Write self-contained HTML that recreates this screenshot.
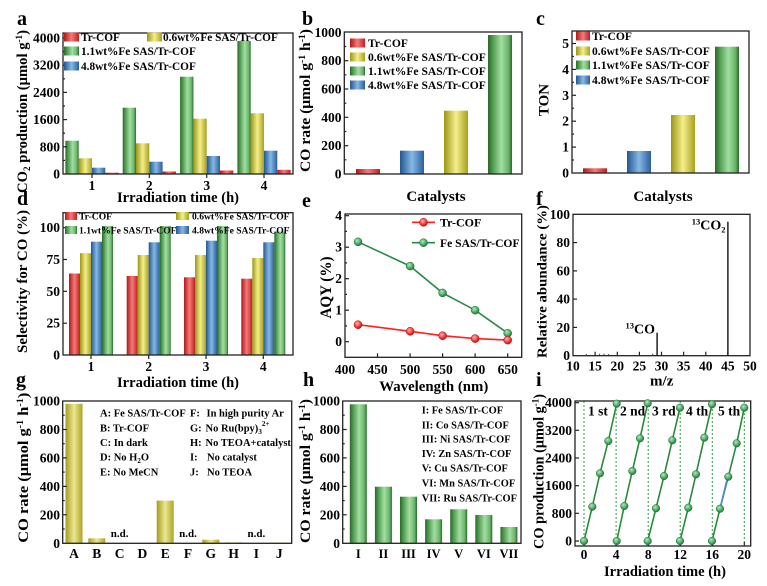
<!DOCTYPE html>
<html><head><meta charset="utf-8"><style>
html,body{margin:0;padding:0;background:#fff;}
svg{display:block;}
text{font-family:"Liberation Serif","DejaVu Serif",serif;font-weight:bold;fill:#000;}
.t{font-size:13.5px;}
.ax{fill:none;stroke:#222;stroke-width:1.3;}
.tk{stroke:#222;stroke-width:1.2;}
.lt{font-size:20px;}
</style></head><body>
<svg width="767" height="586" viewBox="0 0 767 586" xmlns="http://www.w3.org/2000/svg">
<defs>
<linearGradient id="gG" x1="0" x2="1" y1="0" y2="0"><stop offset="0" stop-color="#2b682b"/><stop offset="0.2" stop-color="#4f9c4f"/><stop offset="0.55" stop-color="#a3dea3"/><stop offset="0.85" stop-color="#6ab66a"/><stop offset="1" stop-color="#2b682b"/></linearGradient>
<linearGradient id="gY" x1="0" x2="1" y1="0" y2="0"><stop offset="0" stop-color="#9c9616"/><stop offset="0.5" stop-color="#f4ef8a"/><stop offset="1" stop-color="#a8a020"/></linearGradient>
<linearGradient id="gR" x1="0" x2="1" y1="0" y2="0"><stop offset="0" stop-color="#b01818"/><stop offset="0.5" stop-color="#f57a7a"/><stop offset="1" stop-color="#c02020"/></linearGradient>
<linearGradient id="gB" x1="0" x2="1" y1="0" y2="0"><stop offset="0" stop-color="#22578f"/><stop offset="0.5" stop-color="#86b8e6"/><stop offset="1" stop-color="#2a5f9a"/></linearGradient>
<linearGradient id="gO" x1="0" x2="1" y1="0" y2="0"><stop offset="0" stop-color="#a49c20"/><stop offset="0.5" stop-color="#ece890"/><stop offset="1" stop-color="#aca428"/></linearGradient>
<radialGradient id="mR" cx="0.4" cy="0.35" r="0.65"><stop offset="0" stop-color="#ffb0b0"/><stop offset="1" stop-color="#e00000"/></radialGradient>
<radialGradient id="mG" cx="0.4" cy="0.35" r="0.65"><stop offset="0" stop-color="#a8f0b8"/><stop offset="1" stop-color="#1e7a3a"/></radialGradient>
</defs>
<rect width="767" height="586" fill="#fff"/>

<!-- ================= PANEL A ================= -->
<text class="lt" x="17" y="25">a</text>
<g>
<rect x="65.4" y="140.7" width="13.3" height="33.3" fill="url(#gG)"/>
<rect x="78.7" y="158.3" width="13.3" height="15.7" fill="url(#gY)"/>
<rect x="92" y="167.7" width="13.3" height="6.3" fill="url(#gB)"/>
<rect x="105.3" y="172.7" width="13.3" height="1.3" fill="url(#gR)"/>
<rect x="122.7" y="107.7" width="13.3" height="66.3" fill="url(#gG)"/>
<rect x="136" y="143.3" width="13.3" height="30.7" fill="url(#gY)"/>
<rect x="149.3" y="161.7" width="13.3" height="12.3" fill="url(#gB)"/>
<rect x="162.6" y="171.5" width="13.3" height="2.5" fill="url(#gR)"/>
<rect x="180.1" y="76.7" width="13.3" height="97.3" fill="url(#gG)"/>
<rect x="193.4" y="118.7" width="13.3" height="55.3" fill="url(#gY)"/>
<rect x="206.7" y="156" width="13.3" height="18" fill="url(#gB)"/>
<rect x="220" y="170.5" width="13.3" height="3.5" fill="url(#gR)"/>
<rect x="237.4" y="41" width="13.3" height="133" fill="url(#gG)"/>
<rect x="250.7" y="113.3" width="13.3" height="60.7" fill="url(#gY)"/>
<rect x="264" y="150.7" width="13.3" height="23.3" fill="url(#gB)"/>
<rect x="277.3" y="169.8" width="13.3" height="4.2" fill="url(#gR)"/>
</g>
<rect class="ax" x="63" y="33" width="230" height="141"/>
<g class="tk">
<line x1="63" y1="146.8" x2="67" y2="146.8"/><line x1="63" y1="119.6" x2="67" y2="119.6"/><line x1="63" y1="92.4" x2="67" y2="92.4"/><line x1="63" y1="65.2" x2="67" y2="65.2"/><line x1="63" y1="38" x2="67" y2="38"/>
<line x1="63" y1="160.4" x2="65" y2="160.4"/><line x1="63" y1="133.2" x2="65" y2="133.2"/><line x1="63" y1="106" x2="65" y2="106"/><line x1="63" y1="78.8" x2="65" y2="78.8"/><line x1="63" y1="51.6" x2="65" y2="51.6"/>
<line x1="92" y1="174" x2="92" y2="178"/><line x1="149.3" y1="174" x2="149.3" y2="178"/><line x1="206.7" y1="174" x2="206.7" y2="178"/><line x1="264" y1="174" x2="264" y2="178"/>
</g>
<g class="t" text-anchor="end">
<text x="60" y="178.5">0</text><text x="60" y="151.3">800</text><text x="60" y="124.1">1600</text><text x="60" y="96.9">2400</text><text x="60" y="69.7">3200</text><text x="60" y="42.5">4000</text>
</g>
<g class="t" text-anchor="middle">
<text x="92" y="190">1</text><text x="149.3" y="190">2</text><text x="206.7" y="190">3</text><text x="264" y="190">4</text>
</g>
<g style="font-size:11.3px">
<rect x="64" y="32.5" width="15" height="9" fill="url(#gR)"/><text x="81" y="41">Tr-COF</text>
<rect x="147" y="32.5" width="15" height="9" fill="url(#gY)"/><text x="163" y="41">0.6wt%Fe SAS/Tr-COF</text>
<rect x="64" y="46.5" width="15" height="9" fill="url(#gG)"/><text x="81" y="55">1.1wt%Fe SAS/Tr-COF</text>
<rect x="64" y="61.5" width="15" height="9" fill="url(#gB)"/><text x="81" y="70">4.8wt%Fe SAS/Tr-COF</text>
</g>
<text x="178" y="202" text-anchor="middle" style="font-size:14.5px" textLength="122" lengthAdjust="spacingAndGlyphs">Irradiation  time (h)</text>
<text transform="translate(27,111.5) rotate(-90)" text-anchor="middle" style="font-size:14.5px" textLength="163" lengthAdjust="spacingAndGlyphs">CO<tspan dy="3" style="font-size:9px">2</tspan><tspan dy="-3"> production (μmol g</tspan><tspan dy="-5" style="font-size:9px">-1</tspan><tspan dy="5">)</tspan></text>

<!-- ================= PANEL B ================= -->
<text class="lt" x="302" y="25">b</text>
<rect x="356" y="169" width="24" height="5" fill="url(#gR)"/>
<rect x="400" y="150.7" width="24" height="23.3" fill="url(#gB)"/>
<rect x="444" y="110.7" width="24" height="63.3" fill="url(#gY)"/>
<rect x="488" y="35" width="24" height="139" fill="url(#gG)"/>
<rect class="ax" x="344.3" y="32" width="177.7" height="142"/>
<g class="tk">
<line x1="344.3" y1="145.7" x2="348.3" y2="145.7"/><line x1="344.3" y1="117.3" x2="348.3" y2="117.3"/><line x1="344.3" y1="89" x2="348.3" y2="89"/><line x1="344.3" y1="60.7" x2="348.3" y2="60.7"/>
<line x1="344.3" y1="159.8" x2="346.3" y2="159.8"/><line x1="344.3" y1="131.5" x2="346.3" y2="131.5"/><line x1="344.3" y1="103.2" x2="346.3" y2="103.2"/><line x1="344.3" y1="74.8" x2="346.3" y2="74.8"/><line x1="344.3" y1="46.5" x2="346.3" y2="46.5"/>
</g>
<g class="t" text-anchor="end">
<text x="341.5" y="178.5">0</text><text x="341.5" y="150.2">200</text><text x="341.5" y="121.8">400</text><text x="341.5" y="93.5">600</text><text x="341.5" y="65.2">800</text><text x="341.5" y="36.8">1000</text>
</g>
<g style="font-size:11.6px">
<rect x="350" y="38.5" width="15" height="9" fill="url(#gR)"/><text x="368" y="47">Tr-COF</text>
<rect x="350" y="52.5" width="15" height="9" fill="url(#gY)"/><text x="368" y="61">0.6wt%Fe SAS/Tr-COF</text>
<rect x="350" y="66.5" width="15" height="9" fill="url(#gG)"/><text x="368" y="75">1.1wt%Fe SAS/Tr-COF</text>
<rect x="350" y="80.5" width="15" height="9" fill="url(#gB)"/><text x="368" y="89">4.8wt%Fe SAS/Tr-COF</text>
</g>
<text x="436" y="201" text-anchor="middle" style="font-size:15px">Catalysts</text>
<text transform="translate(310,100.5) rotate(-90)" text-anchor="middle" style="font-size:14.5px" textLength="143" lengthAdjust="spacingAndGlyphs">CO rate (μmol g<tspan dy="-5" style="font-size:9px">-1</tspan><tspan dy="5"> h</tspan><tspan dy="-5" style="font-size:9px">-1</tspan><tspan dy="5">)</tspan></text>

<!-- ================= PANEL C ================= -->
<text class="lt" x="536" y="25">c</text>
<rect x="583" y="168.3" width="24" height="4.7" fill="url(#gR)"/>
<rect x="627" y="151" width="24" height="22" fill="url(#gB)"/>
<rect x="671" y="115" width="24" height="58" fill="url(#gY)"/>
<rect x="715" y="46.7" width="24" height="126.3" fill="url(#gG)"/>
<rect class="ax" x="572" y="31" width="177" height="142"/>
<g class="tk">
<line x1="572" y1="147.1" x2="576" y2="147.1"/><line x1="572" y1="121.2" x2="576" y2="121.2"/><line x1="572" y1="95.3" x2="576" y2="95.3"/><line x1="572" y1="69.4" x2="576" y2="69.4"/><line x1="572" y1="43.5" x2="576" y2="43.5"/>
<line x1="572" y1="160" x2="574" y2="160"/><line x1="572" y1="134.1" x2="574" y2="134.1"/><line x1="572" y1="108.2" x2="574" y2="108.2"/><line x1="572" y1="82.3" x2="574" y2="82.3"/><line x1="572" y1="56.4" x2="574" y2="56.4"/>
</g>
<g class="t" text-anchor="end">
<text x="569" y="177.5">0</text><text x="569" y="151.6">1</text><text x="569" y="125.7">2</text><text x="569" y="99.8">3</text><text x="569" y="73.9">4</text><text x="569" y="48">5</text>
</g>
<g style="font-size:11.6px">
<rect x="576" y="31.5" width="14" height="9" fill="url(#gR)"/><text x="592" y="40">Tr-COF</text>
<rect x="576" y="46.5" width="14" height="9" fill="url(#gY)"/><text x="592" y="55">0.6wt%Fe SAS/Tr-COF</text>
<rect x="576" y="60.5" width="14" height="9" fill="url(#gG)"/><text x="592" y="69">1.1wt%Fe SAS/Tr-COF</text>
<rect x="576" y="75.5" width="14" height="9" fill="url(#gB)"/><text x="592" y="84">4.8wt%Fe SAS/Tr-COF</text>
</g>
<text x="663" y="201" text-anchor="middle" style="font-size:15px">Catalysts</text>
<text transform="translate(548.5,100) rotate(-90)" text-anchor="middle" style="font-size:15px">TON</text>

<!-- ================= PANEL D ================= -->
<text class="lt" x="17" y="205">d</text>
<g>
<rect x="69" y="273.5" width="11" height="81.5" fill="url(#gR)"/><rect x="80" y="253.2" width="11" height="101.8" fill="url(#gY)"/><rect x="91" y="241.7" width="11" height="113.3" fill="url(#gB)"/><rect x="102" y="226" width="11" height="129" fill="url(#gG)"/>
<rect x="126.7" y="276" width="11" height="79" fill="url(#gR)"/><rect x="137.7" y="255" width="11" height="100" fill="url(#gY)"/><rect x="148.7" y="242.3" width="11" height="112.7" fill="url(#gB)"/><rect x="159.7" y="226" width="11" height="129" fill="url(#gG)"/>
<rect x="184" y="277.3" width="11" height="77.7" fill="url(#gR)"/><rect x="195" y="255" width="11" height="100" fill="url(#gY)"/><rect x="206" y="240.7" width="11" height="114.3" fill="url(#gB)"/><rect x="217" y="226" width="11" height="129" fill="url(#gG)"/>
<rect x="241.3" y="278.7" width="11" height="76.3" fill="url(#gR)"/><rect x="252.3" y="258" width="11" height="97" fill="url(#gY)"/><rect x="263.3" y="242.3" width="11" height="112.7" fill="url(#gB)"/><rect x="274.3" y="231.5" width="11" height="123.5" fill="url(#gG)"/>
</g>
<rect class="ax" x="63" y="212.7" width="230" height="142.3"/>
<g class="tk">
<line x1="63" y1="323.2" x2="67" y2="323.2"/><line x1="63" y1="291.35" x2="67" y2="291.35"/><line x1="63" y1="259.5" x2="67" y2="259.5"/><line x1="63" y1="227.7" x2="67" y2="227.7"/>
<line x1="91" y1="355" x2="91" y2="359"/><line x1="148.7" y1="355" x2="148.7" y2="359"/><line x1="206" y1="355" x2="206" y2="359"/><line x1="263.3" y1="355" x2="263.3" y2="359"/>
</g>
<g class="t" text-anchor="end">
<text x="60" y="359.5">0</text><text x="60" y="327.7">25</text><text x="60" y="295.8">50</text><text x="60" y="264">75</text><text x="60" y="232.2">100</text>
</g>
<g class="t" text-anchor="middle">
<text x="91" y="371">1</text><text x="148.7" y="371">2</text><text x="206" y="371">3</text><text x="263.3" y="371">4</text>
</g>
<g style="font-size:9.6px">
<rect x="65" y="212" width="12" height="8" fill="url(#gR)"/><text x="79" y="219.5">Tr-COF</text>
<rect x="176" y="212" width="13" height="8" fill="url(#gY)"/><text x="192" y="219.5">0.6wt%Fe SAS/Tr-COF</text>
<rect x="65" y="226" width="12" height="8" fill="url(#gG)"/><text x="79" y="233.5">1.1wt%Fe SAS/Tr-COF</text>
<rect x="176" y="226" width="13" height="8" fill="url(#gB)"/><text x="192" y="233.5">4.8wt%Fe SAS/Tr-COF</text>
</g>
<text x="178" y="387" text-anchor="middle" style="font-size:14.5px" textLength="122" lengthAdjust="spacingAndGlyphs">Irradiation  time (h)</text>
<text transform="translate(27,281.5) rotate(-90)" text-anchor="middle" style="font-size:14.5px" textLength="143" lengthAdjust="spacingAndGlyphs">Selectivity for CO (%)</text>

<!-- ================= PANEL E ================= -->
<text class="lt" x="302" y="207">e</text>
<rect class="ax" x="345" y="214" width="176.7" height="143.3"/>
<g class="tk">
<line x1="345" y1="310.2" x2="349" y2="310.2"/><line x1="345" y1="278.7" x2="349" y2="278.7"/><line x1="345" y1="247.2" x2="349" y2="247.2"/><line x1="345" y1="215.7" x2="349" y2="215.7"/><line x1="345" y1="341.7" x2="349" y2="341.7"/>
<line x1="345" y1="325.9" x2="347" y2="325.9"/><line x1="345" y1="294.4" x2="347" y2="294.4"/><line x1="345" y1="262.9" x2="347" y2="262.9"/><line x1="345" y1="231.4" x2="347" y2="231.4"/>
<line x1="377.5" y1="357.3" x2="377.5" y2="353.3"/><line x1="410.1" y1="357.3" x2="410.1" y2="353.3"/><line x1="442.6" y1="357.3" x2="442.6" y2="353.3"/><line x1="475.1" y1="357.3" x2="475.1" y2="353.3"/><line x1="507.7" y1="357.3" x2="507.7" y2="353.3"/>
</g>
<g class="t" text-anchor="end">
<text x="342" y="346.2">0</text><text x="342" y="314.7">1</text><text x="342" y="283.2">2</text><text x="342" y="251.7">3</text><text x="342" y="220.2">4</text>
</g>
<g class="t" text-anchor="middle">
<text x="345" y="374">400</text><text x="377.5" y="374">450</text><text x="410.1" y="374">500</text><text x="442.6" y="374">550</text><text x="475.1" y="374">600</text><text x="507.7" y="374">650</text>
</g>
<polyline points="358,241.8 410.1,266.1 442.6,292.9 475.1,310.2 507.7,333.2" fill="none" stroke="#2a8a4a" stroke-width="1.6"/>
<polyline points="358,324.7 410.1,331.3 442.6,335.7 475.1,338.6 507.7,340.1" fill="none" stroke="#ff2020" stroke-width="1.6"/>
<g stroke="#1a6a2a" stroke-width="0.5">
<circle cx="358" cy="241.8" r="4" fill="url(#mG)"/><circle cx="410.1" cy="266.1" r="4" fill="url(#mG)"/><circle cx="442.6" cy="292.9" r="4" fill="url(#mG)"/><circle cx="475.1" cy="310.2" r="4" fill="url(#mG)"/><circle cx="507.7" cy="333.2" r="4" fill="url(#mG)"/>
</g>
<g stroke="#b00000" stroke-width="0.5">
<circle cx="358" cy="324.7" r="4" fill="url(#mR)"/><circle cx="410.1" cy="331.3" r="4" fill="url(#mR)"/><circle cx="442.6" cy="335.7" r="4" fill="url(#mR)"/><circle cx="475.1" cy="338.6" r="4" fill="url(#mR)"/><circle cx="507.7" cy="340.1" r="4" fill="url(#mR)"/>
</g>
<line x1="412" y1="222.3" x2="435" y2="222.3" stroke="#ff2020" stroke-width="1.6"/>
<circle cx="423.5" cy="222.3" r="4" fill="url(#mR)" stroke="#b00000" stroke-width="0.5"/>
<text x="440" y="226.5" style="font-size:12px">Tr-COF</text>
<line x1="412" y1="242.7" x2="435" y2="242.7" stroke="#2a8a4a" stroke-width="1.6"/>
<circle cx="423.5" cy="242.7" r="4" fill="url(#mG)" stroke="#1a6a2a" stroke-width="0.5"/>
<text x="440" y="246.9" style="font-size:11.6px">Fe SAS/Tr-COF</text>
<text x="433.8" y="391" text-anchor="middle" style="font-size:15px" textLength="109" lengthAdjust="spacingAndGlyphs">Wavelength (nm)</text>
<text transform="translate(331,287.5) rotate(-90)" text-anchor="middle" style="font-size:16px" textLength="62" lengthAdjust="spacingAndGlyphs">AQY (%)</text>

<!-- ================= PANEL F ================= -->
<text class="lt" x="536" y="205">f</text>
<rect class="ax" x="573" y="214.3" width="177" height="141.4"/>
<g class="tk">
<line x1="573" y1="327.4" x2="577" y2="327.4"/><line x1="573" y1="299.1" x2="577" y2="299.1"/><line x1="573" y1="270.9" x2="577" y2="270.9"/><line x1="573" y1="242.6" x2="577" y2="242.6"/>
<line x1="595.1" y1="355.7" x2="595.1" y2="351.7"/><line x1="617.3" y1="355.7" x2="617.3" y2="351.7"/><line x1="639.4" y1="355.7" x2="639.4" y2="351.7"/><line x1="661.5" y1="355.7" x2="661.5" y2="351.7"/><line x1="683.6" y1="355.7" x2="683.6" y2="351.7"/><line x1="705.8" y1="355.7" x2="705.8" y2="351.7"/><line x1="727.9" y1="355.7" x2="727.9" y2="351.7"/>
</g>
<g class="t" text-anchor="end">
<text x="570" y="360.2">0</text><text x="570" y="332">20</text><text x="570" y="303.6">40</text><text x="570" y="275.4">60</text><text x="570" y="247.1">80</text><text x="570" y="218.8">100</text>
</g>
<g class="t" text-anchor="middle">
<text x="573" y="370.5">10</text><text x="595.1" y="370.5">15</text><text x="617.3" y="370.5">20</text><text x="639.4" y="370.5">25</text><text x="661.5" y="370.5">30</text><text x="683.6" y="370.5">35</text><text x="705.8" y="370.5">40</text><text x="727.9" y="370.5">45</text><text x="750" y="370.5">50</text>
</g>
<g stroke="#111" stroke-width="1.4">
<line x1="727.9" y1="355.7" x2="727.9" y2="221.7"/>
<line x1="657.1" y1="355.7" x2="657.1" y2="332.7"/>
</g>
<g stroke="#333" stroke-width="0.9">
<line x1="586.3" y1="355.7" x2="586.3" y2="354"/><line x1="599.6" y1="355.7" x2="599.6" y2="353.8"/><line x1="604" y1="355.7" x2="604" y2="353.6"/><line x1="608.4" y1="355.7" x2="608.4" y2="354"/><line x1="652.7" y1="355.7" x2="652.7" y2="353.8"/>
</g>
<text x="725.5" y="229.5" text-anchor="end" style="font-size:14px"><tspan dy="-5" style="font-size:8.5px">13</tspan><tspan dy="5">CO</tspan><tspan dy="3" style="font-size:8.5px">2</tspan></text>
<text x="655" y="333.5" text-anchor="end" style="font-size:14px"><tspan dy="-5" style="font-size:8.5px">13</tspan><tspan dy="5">CO</tspan></text>
<text x="661.7" y="385.5" text-anchor="middle" style="font-size:15px">m/z</text>
<text transform="translate(546.5,281.5) rotate(-90)" text-anchor="middle" style="font-size:14px" textLength="153" lengthAdjust="spacingAndGlyphs">Relative abundance (%)</text>

<!-- ================= PANEL G ================= -->
<text class="lt" x="16" y="386">g</text>
<g>
<rect x="65.5" y="403.8" width="17" height="139.5" fill="url(#gO)"/>
<rect x="88.3" y="538.3" width="17" height="5" fill="url(#gO)"/>
<rect x="156.7" y="500.6" width="17" height="42.7" fill="url(#gO)"/>
<rect x="202.3" y="539.7" width="17" height="3.6" fill="url(#gO)"/>
<rect x="225.1" y="542.4" width="17" height="0.9" fill="url(#gO)"/>
<rect x="270.7" y="542.7" width="17" height="0.6" fill="url(#gO)"/>
</g>
<rect class="ax" x="62.7" y="401" width="229" height="142.3"/>
<g class="tk">
<line x1="62.7" y1="514.8" x2="66.7" y2="514.8"/><line x1="62.7" y1="486.4" x2="66.7" y2="486.4"/><line x1="62.7" y1="457.9" x2="66.7" y2="457.9"/><line x1="62.7" y1="429.5" x2="66.7" y2="429.5"/>
<line x1="62.7" y1="529" x2="64.7" y2="529"/><line x1="62.7" y1="500.6" x2="64.7" y2="500.6"/><line x1="62.7" y1="472.1" x2="64.7" y2="472.1"/><line x1="62.7" y1="443.7" x2="64.7" y2="443.7"/><line x1="62.7" y1="415.2" x2="64.7" y2="415.2"/>
</g>
<g class="t" text-anchor="end">
<text x="60" y="547.8">0</text><text x="60" y="519.3">200</text><text x="60" y="490.9">400</text><text x="60" y="462.4">600</text><text x="60" y="434">800</text><text x="60" y="405.5">1000</text>
</g>
<g class="t" text-anchor="middle">
<text x="74" y="558">A</text><text x="96.8" y="558">B</text><text x="119.6" y="558">C</text><text x="142.4" y="558">D</text><text x="165.2" y="558">E</text><text x="188" y="558">F</text><text x="210.8" y="558">G</text><text x="233.6" y="558">H</text><text x="256.4" y="558">I</text><text x="279.2" y="558">J</text>
</g>
<g text-anchor="middle" style="font-size:11px">
<text x="119.6" y="537">n.d.</text><text x="188" y="537">n.d.</text><text x="256.4" y="537">n.d.</text>
</g>
<g style="font-size:10.5px">
<text x="100" y="416.5">A: Fe SAS/Tr-COF</text>
<text x="100" y="431.5">B: Tr-COF</text>
<text x="100" y="446">C: In dark</text>
<text x="100" y="460.5">D: No H<tspan dy="2.5" style="font-size:7px">2</tspan><tspan dy="-2.5">O</tspan></text>
<text x="100" y="475.5">E: No MeCN</text>
<text x="190" y="416.5">F:</text><text x="206.5" y="416.5">In high purity Ar</text>
<text x="190" y="431.5">G:</text><text x="205.5" y="431.5">No Ru(bpy)<tspan dy="2.5" style="font-size:7px">3</tspan><tspan dy="-8" style="font-size:7px">2+</tspan></text>
<text x="190" y="446">H:</text><text x="205.5" y="446">No TEOA+catalyst</text>
<text x="190" y="460.5">I:</text><text x="207" y="460.5">No catalyst</text>
<text x="190" y="475.5">J:</text><text x="207" y="475.5">No TEOA</text>
</g>
<text transform="translate(28,467.7) rotate(-90)" text-anchor="middle" style="font-size:14.5px" textLength="150" lengthAdjust="spacingAndGlyphs">CO rate (μmol g<tspan dy="-5" style="font-size:9px">-1</tspan><tspan dy="5"> h</tspan><tspan dy="-5" style="font-size:9px">-1</tspan><tspan dy="5">)</tspan></text>

<!-- ================= PANEL H ================= -->
<text class="lt" x="303" y="386">h</text>
<g>
<rect x="349.8" y="404.3" width="17" height="139" fill="url(#gG)"/>
<rect x="374.9" y="486.7" width="17" height="56.6" fill="url(#gG)"/>
<rect x="400" y="496.7" width="17" height="46.6" fill="url(#gG)"/>
<rect x="425.1" y="519.3" width="17" height="24" fill="url(#gG)"/>
<rect x="450.2" y="509.3" width="17" height="34" fill="url(#gG)"/>
<rect x="475.3" y="515" width="17" height="28.3" fill="url(#gG)"/>
<rect x="500.4" y="527" width="17" height="16.3" fill="url(#gG)"/>
</g>
<rect class="ax" x="342.7" y="401" width="178.3" height="142.3"/>
<g class="tk">
<line x1="342.7" y1="514.8" x2="346.7" y2="514.8"/><line x1="342.7" y1="486.4" x2="346.7" y2="486.4"/><line x1="342.7" y1="457.9" x2="346.7" y2="457.9"/><line x1="342.7" y1="429.5" x2="346.7" y2="429.5"/>
<line x1="342.7" y1="529" x2="344.7" y2="529"/><line x1="342.7" y1="500.6" x2="344.7" y2="500.6"/><line x1="342.7" y1="472.1" x2="344.7" y2="472.1"/><line x1="342.7" y1="443.7" x2="344.7" y2="443.7"/><line x1="342.7" y1="415.2" x2="344.7" y2="415.2"/>
</g>
<g class="t" text-anchor="end">
<text x="340" y="547.8">0</text><text x="340" y="519.3">200</text><text x="340" y="490.9">400</text><text x="340" y="462.4">600</text><text x="340" y="434">800</text><text x="340" y="405.5">1000</text>
</g>
<g class="t" text-anchor="middle" style="font-size:12.5px">
<text x="358.3" y="558">I</text><text x="383.4" y="558">II</text><text x="408.5" y="558">III</text><text x="433.6" y="558">IV</text><text x="458.7" y="558">V</text><text x="483.8" y="558">VI</text><text x="508.9" y="558">VII</text>
</g>
<g style="font-size:10.4px">
<text x="421.7" y="413.3">I: Fe SAS/Tr-COF</text>
<text x="421.7" y="428.3">II: Co SAS/Tr-COF</text>
<text x="421.7" y="442.7">III: Ni SAS/Tr-COF</text>
<text x="421.7" y="457">IV: Zn SAS/Tr-COF</text>
<text x="421.7" y="471.7">V: Cu SAS/Tr-COF</text>
<text x="421.7" y="486.7">VI: Mn SAS/Tr-COF</text>
<text x="421.7" y="501.7">VII: Ru SAS/Tr-COF</text>
</g>
<text transform="translate(310,471) rotate(-90)" text-anchor="middle" style="font-size:14.5px" textLength="144" lengthAdjust="spacingAndGlyphs">CO rate (μmol g<tspan dy="-5" style="font-size:9px">-1</tspan><tspan dy="5"> h</tspan><tspan dy="-5" style="font-size:9px">-1</tspan><tspan dy="5">)</tspan></text>

<!-- ================= PANEL I ================= -->
<text class="lt" x="536" y="386">i</text>
<g stroke="#2aa040" stroke-width="1" stroke-dasharray="2,2">
<line x1="584" y1="401" x2="584" y2="546"/><line x1="616.1" y1="401" x2="616.1" y2="546"/><line x1="648.2" y1="401" x2="648.2" y2="546"/><line x1="680.2" y1="401" x2="680.2" y2="546"/><line x1="712.3" y1="401" x2="712.3" y2="546"/><line x1="744.3" y1="401" x2="744.3" y2="546"/>
</g>
<rect class="ax" x="575" y="401" width="175.7" height="145"/>
<g class="tk">
<line x1="575" y1="513.3" x2="579" y2="513.3"/><line x1="575" y1="485.7" x2="579" y2="485.7"/><line x1="575" y1="458" x2="579" y2="458"/><line x1="575" y1="430.3" x2="579" y2="430.3"/><line x1="575" y1="402.7" x2="579" y2="402.7"/><line x1="575" y1="541" x2="579" y2="541"/>
<line x1="584" y1="546" x2="584" y2="542"/><line x1="616.1" y1="546" x2="616.1" y2="542"/><line x1="648.2" y1="546" x2="648.2" y2="542"/><line x1="680.2" y1="546" x2="680.2" y2="542"/><line x1="712.3" y1="546" x2="712.3" y2="542"/><line x1="744.3" y1="546" x2="744.3" y2="542"/>
</g>
<g class="t" text-anchor="end">
<text x="572" y="545.5">0</text><text x="572" y="517.8">800</text><text x="572" y="490.2">1600</text><text x="572" y="462.5">2400</text><text x="572" y="434.8">3200</text><text x="572" y="407.2">4000</text>
</g>
<g class="t" text-anchor="middle">
<text x="584" y="559">0</text><text x="616.1" y="559">4</text><text x="648.2" y="559">8</text><text x="680.2" y="559">12</text><text x="712.3" y="559">16</text><text x="744.3" y="559">20</text>
</g>
<g fill="none" stroke="#2a8a3a" stroke-width="1.6">
<polyline points="584,541 592.3,506.7 600,473.3 608.3,441 616.7,403.7"/>
<polyline points="616.7,541 624.3,506 632.3,471 640,438.3 647.7,403.3"/>
<polyline points="647.7,541 656,508.3 664,476 672.3,440.3 680,407.7"/>
<polyline points="680,541 688.3,507.7 696,474.3 704.3,437.7 712,404.3"/>
<polyline points="712,541 720,508.7 728.3,476.7 736.7,443.3 744.3,407.7"/>
</g>
<line x1="720" y1="508.7" x2="726.7" y2="481" stroke="#4a8ad8" stroke-width="1.6"/>
<g fill="url(#mG)" stroke="#1a6a2a" stroke-width="0.5">
<circle cx="584" cy="541" r="3.8"/><circle cx="592.3" cy="506.7" r="3.8"/><circle cx="600" cy="473.3" r="3.8"/><circle cx="608.3" cy="441" r="3.8"/><circle cx="616.7" cy="403.7" r="3.8"/>
<circle cx="616.7" cy="541" r="3.8"/><circle cx="624.3" cy="506" r="3.8"/><circle cx="632.3" cy="471" r="3.8"/><circle cx="640" cy="438.3" r="3.8"/><circle cx="647.7" cy="403.3" r="3.8"/>
<circle cx="647.7" cy="541" r="3.8"/><circle cx="656" cy="508.3" r="3.8"/><circle cx="664" cy="476" r="3.8"/><circle cx="672.3" cy="440.3" r="3.8"/><circle cx="680" cy="407.7" r="3.8"/>
<circle cx="680" cy="541" r="3.8"/><circle cx="688.3" cy="507.7" r="3.8"/><circle cx="696" cy="474.3" r="3.8"/><circle cx="704.3" cy="437.7" r="3.8"/><circle cx="712" cy="404.3" r="3.8"/>
<circle cx="712" cy="541" r="3.8"/><circle cx="720" cy="508.7" r="3.8"/><circle cx="728.3" cy="476.7" r="3.8"/><circle cx="736.7" cy="443.3" r="3.8"/><circle cx="744.3" cy="407.7" r="3.8"/>
</g>
<g style="font-size:13.5px">
<text x="588" y="415.5">1 st</text><text x="620" y="415.5">2 nd</text><text x="652" y="415.5">3 rd</text><text x="686" y="415.5">4 th</text><text x="718" y="415.5">5 th</text>
</g>
<text x="665" y="576" text-anchor="middle" style="font-size:15px" textLength="122" lengthAdjust="spacingAndGlyphs">Irradiation time (h)</text>
<text transform="translate(543.5,471.5) rotate(-90)" text-anchor="middle" style="font-size:14.5px" textLength="155" lengthAdjust="spacingAndGlyphs">CO production (μmol g<tspan dy="-5" style="font-size:9px">-1</tspan><tspan dy="5">)</tspan></text>
</svg>
</body></html>
